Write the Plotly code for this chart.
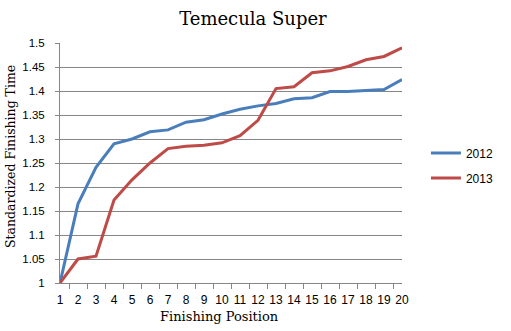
import plotly.graph_objects as go

positions = [str(i) for i in range(1, 21)]
times_2012 = [1.0, 1.165, 1.241, 1.29, 1.30, 1.315, 1.319, 1.335, 1.34, 1.352,
              1.362, 1.369, 1.374, 1.384, 1.386, 1.399, 1.399, 1.401, 1.403, 1.424]
times_2013 = [1.0, 1.05, 1.056, 1.173, 1.215, 1.25, 1.28, 1.285, 1.287, 1.292,
              1.307, 1.339, 1.405, 1.409, 1.438, 1.442, 1.451, 1.465, 1.472, 1.49]
y_ticks = [1.0, 1.05, 1.1, 1.15, 1.2, 1.25, 1.3, 1.35, 1.4, 1.45, 1.5]

serif = "DejaVu Serif"

fig = go.Figure()
fig.add_trace(go.Scatter(x=positions, y=times_2012, name="2012", mode="lines",
                         legendgroup="a", line=dict(color="#4A7EBB", width=3)))
fig.add_trace(go.Scatter(x=positions, y=times_2013, name="2013", mode="lines",
                         legendgroup="b", line=dict(color="#BE4B48", width=3)))

fig.update_layout(
    width=511, height=331,
    margin=dict(l=60, r=103, t=43, b=48),
    paper_bgcolor="white", plot_bgcolor="white",
    title=dict(text="Temecula Super", x=0.495, xanchor="center", y=0.945, yanchor="middle",
               font=dict(family=serif, size=18, color="black")),
    legend=dict(x=1.07, y=0.49, xanchor="left", yanchor="middle",
                font=dict(family="Liberation Sans", size=12, color="black"),
                tracegroupgap=6, itemwidth=30),
    xaxis=dict(type="category", tickson="boundaries", ticks="outside", ticklen=5,
               tickangle=0, tickcolor="#868686", showline=True, linecolor="#868686",
               linewidth=1, showgrid=False, ticklabelstandoff=6,
               tickfont=dict(family="Liberation Sans Narrow, Liberation Sans", size=12,
                             color="black")),
    yaxis=dict(range=[1.0, 1.5], tickvals=y_ticks, ticktext=[f"{v:g}" for v in y_ticks],
               ticks="outside", ticklen=4, tickcolor="#868686", ticklabelstandoff=8,
               showline=True, linecolor="#868686", linewidth=1,
               showgrid=True, gridcolor="#868686", gridwidth=1, zeroline=False,
               tickfont=dict(family="Liberation Sans", size=11.5, color="black")),
    annotations=[
        dict(text="Standardized Finishing Time", textangle=-90,
             xref="paper", yref="paper", x=-0.146, y=0.525,
             xanchor="center", yanchor="middle", showarrow=False,
             font=dict(family=serif, size=12.5, color="black")),
        dict(text="Finishing Position",
             xref="paper", yref="paper", x=0.467, y=-0.138,
             xanchor="center", yanchor="middle", showarrow=False,
             font=dict(family=serif, size=13, color="black")),
    ],
)

fig.write_html("out.html")
